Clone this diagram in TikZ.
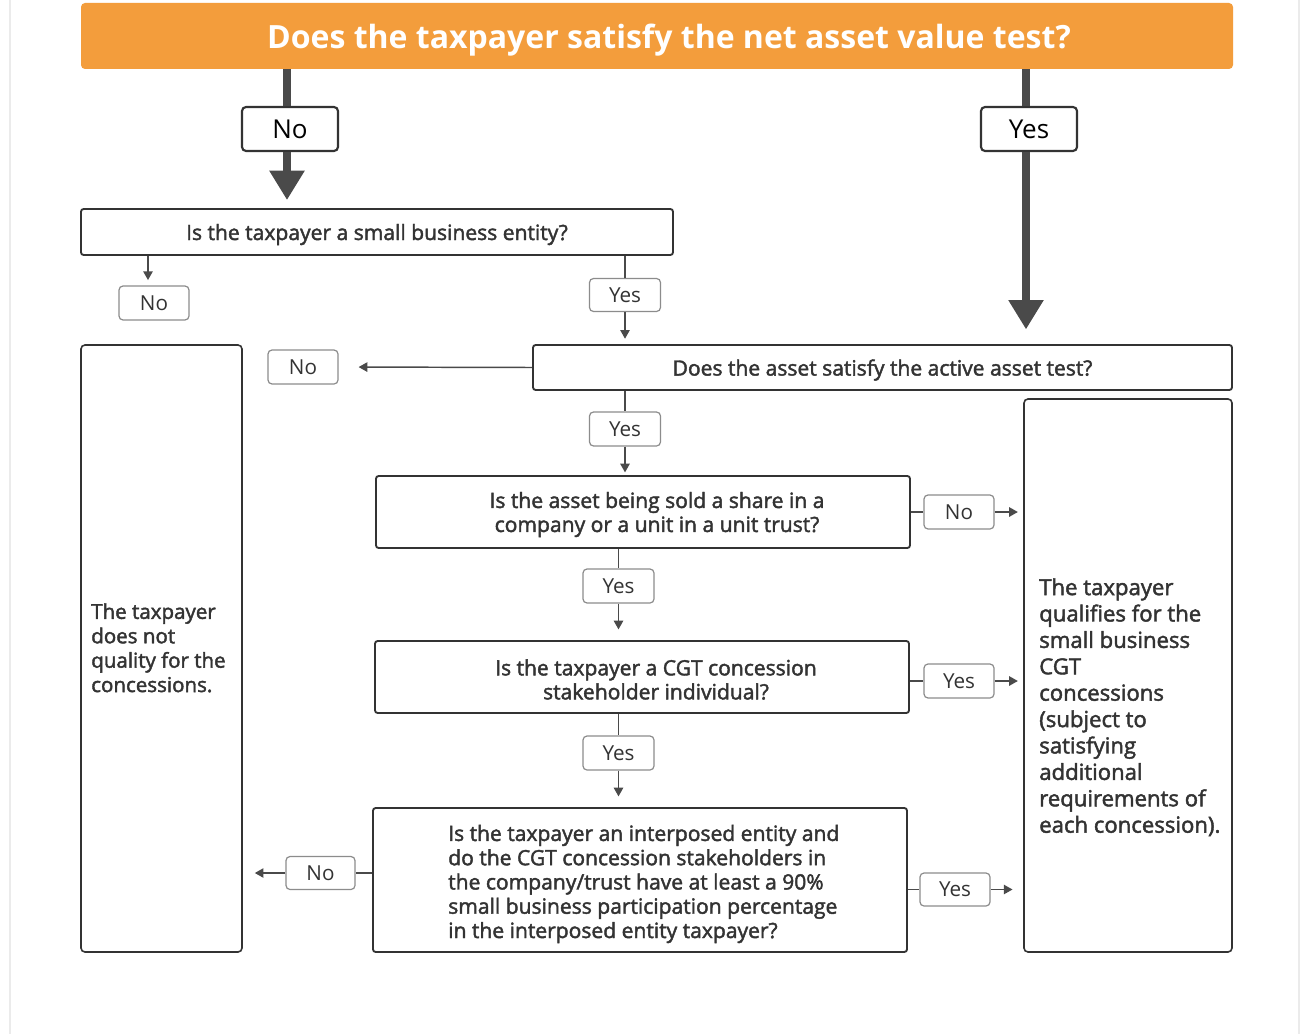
\documentclass[tikz,border=0pt]{standalone}
\usepackage{fontspec}
\setmainfont{Open Sans}
\newfontfamily\semib[FakeBold=2]{Open Sans}
\usetikzlibrary{arrows.meta}
\definecolor{orangebar}{HTML}{F39D3C}
\definecolor{ink}{HTML}{333333}
\definecolor{thick}{HTML}{4A4A4A}
\definecolor{lbl}{HTML}{8C8C8C}
\tikzset{
  qfont/.style={font=\semib\fontsize{15.8}{18}\selectfont, text=ink},
  qbox/.style={draw=ink, line width=1.4pt, rounded corners=2pt, inner sep=0pt, align=center, qfont},
  bigl/.style={draw=ink, line width=1.6pt, rounded corners=3pt, inner sep=0pt,
    font=\fontsize{19.5}{22}\selectfont, text=black},
  lab/.style={draw=lbl, line width=0.9pt, rounded corners=3pt, inner sep=0pt,
    font=\fontsize{15.5}{18}\selectfont, text=ink},
  side/.style={draw=ink, line width=1.2pt, rounded corners=3pt, inner sep=0pt},
  conn/.style={draw=thick, line width=1.1pt},
  arr/.style={conn, -{Triangle[width=7pt,length=6.5pt]}},
  fat/.style={draw=thick, line width=6pt},
  fatarr/.style={fat, -{Triangle[width=25pt,length=22pt]}},
}
\begin{document}
\begin{tikzpicture}[x=0.75pt,y=-0.75pt]
\useasboundingbox (0,0) rectangle (1302,1034);
\fill[white] (0,0) rectangle (1302,1034);
\draw[black!8, line width=0.8pt] (10,0) -- (10,1034);
\draw[black!8, line width=0.8pt] (1299,0) -- (1299,1034);

% title
\node[fill=orangebar, rounded corners=3pt, minimum width=1152*0.75pt, minimum height=66*0.75pt,
  inner sep=0pt] (title) at (657,36) {};
\node[inner sep=0pt, text=white, font=\bfseries\fontsize{24}{28}\selectfont, text depth=0pt] (titlet) at (669,36)
  {Does the taxpayer satisfy the net asset value test?};

\node[bigl, minimum width=96*0.75pt, minimum height=44*0.75pt] (noTop) at (290,129) {No};
\node[bigl, minimum width=96*0.75pt, minimum height=44*0.75pt] (yesTop) at (1029,129) {Yes};

\node[qbox, minimum width=592*0.75pt, minimum height=46*0.75pt, text depth=0pt] (q1) at (377,232)
  {Is the taxpayer a small business entity?};
\node[lab, minimum width=70*0.75pt, minimum height=34*0.75pt] (no1) at (154,303) {No};
\node[lab, minimum width=71*0.75pt, minimum height=33*0.75pt] (yes1) at (625,295) {Yes};

\node[qbox, minimum width=699*0.75pt, minimum height=45*0.75pt, text depth=0pt] (q2) at (882.5,367.5)
  {Does the asset satisfy the active asset test?};
\node[lab, minimum width=70*0.75pt, minimum height=34*0.75pt] (no2) at (303,367) {No};
\node[lab, minimum width=71*0.75pt, minimum height=34*0.75pt] (yes2) at (625,429) {Yes};

\node[qbox, minimum width=534*0.75pt, minimum height=72*0.75pt] (q3) at (643,512) {};
\node[inner sep=0pt, align=center, qfont] (q3t) at (657,514.5)
  {Is the asset being sold a share in a\\company or a unit in a unit trust?};
\node[lab, minimum width=70*0.75pt, minimum height=34*0.75pt] (no3) at (959,512) {No};
\node[lab, minimum width=71*0.75pt, minimum height=34*0.75pt] (yes3) at (618.5,586) {Yes};

\node[qbox, minimum width=534*0.75pt, minimum height=72*0.75pt] (q4) at (642,677) {};
\node[inner sep=0pt, align=center, qfont] (q4t) at (656,679.5)
  {Is the taxpayer a CGT concession\\stakeholder individual?};
\node[lab, minimum width=70*0.75pt, minimum height=34*0.75pt] (yes4) at (959,681) {Yes};
\node[lab, minimum width=71*0.75pt, minimum height=34*0.75pt] (yes5) at (618.5,753) {Yes};

\node[qbox, minimum width=534*0.75pt, minimum height=144*0.75pt] (q5) at (640,880) {};
\node[anchor=west, inner sep=0pt, align=left, qfont, font=\semib\fontsize{15.8}{18.2}\selectfont] (q5t) at (448,884)
  {Is the taxpayer an interposed entity and\\do the CGT concession stakeholders in\\the company/trust have at least a 90\%\\small business participation percentage\\in the interposed entity taxpayer?};
\node[lab, minimum width=69*0.75pt, minimum height=33*0.75pt] (no5) at (320.5,873) {No};
\node[lab, minimum width=70*0.75pt, minimum height=33*0.75pt] (yes6) at (955,889.5) {Yes};

\node[side, minimum width=161*0.75pt, minimum height=607*0.75pt] (left) at (161.5,648.5) {};
\node[anchor=north west, inner sep=0pt, align=left, text=ink, font=\semib\fontsize{15.4}{18.3}\selectfont] (leftt) at (91,603)
  {The taxpayer\\does not\\quality for the\\concessions.};
\node[side, minimum width=208*0.75pt, minimum height=553*0.75pt] (right) at (1128,675.5) {};
\node[anchor=north west, inner sep=0pt, align=left, text=ink, font=\semib\fontsize{16.6}{19.8}\selectfont] (rightt) at (1039,578)
  {The taxpayer\\qualifies for the\\small business\\CGT\\concessions\\(subject to\\satisfying\\additional\\requirements of\\each concession).};

% thick connectors
\draw[fat] (title.south -| noTop.north) ++(-3,0) coordinate (a0) -- (a0 |- noTop.north);
\draw[fatarr, shorten >=6pt] (noTop.south) ++(-3,0) coordinate (a1) -- (a1 |- q1.north);
\draw[fat] (title.south -| yesTop.north) ++(-3,0) coordinate (b0) -- (b0 |- yesTop.north);
\draw[fatarr, shorten >=11pt] (yesTop.south) ++(-3,0) coordinate (b1) -- (b1 |- q2.north);

% thin connectors
\draw[arr, shorten >=4pt] (q1.south -| no1) ++(-6,0) coordinate (c0) -- (c0 |- no1.north);
\draw[conn] (q1.south -| yes1) -- (yes1.north);
\draw[arr, shorten >=4pt] (yes1.south) -- (yes1.south |- q2.north);
\draw[arr, shorten >=15pt] (q2.west) -- (no2.east);
\draw[conn] (q2.south -| yes2) -- (yes2.north);
\draw[arr, shorten >=2pt] (yes2.south) -- (yes2.south |- q3.north);
\draw[conn] (q3.east) -- (no3.west);
\draw[arr, shorten >=4pt] (no3.east) -- (no3.east -| right.west);
\draw[conn] (q3.south -| yes3) -- (yes3.north);
\draw[arr, shorten >=8pt] (yes3.south) -- (yes3.south |- q4.north);
\draw[conn] (q4.east |- yes4) -- (yes4.west);
\draw[arr, shorten >=4pt] (yes4.east) -- (yes4.east -| right.west);
\draw[conn] (q4.south -| yes5) -- (yes5.north);
\draw[arr, shorten >=8pt] (yes5.south) -- (yes5.south |- q5.north);
\draw[conn] (q5.west |- no5) -- (no5.east);
\draw[arr, shorten >=9pt] (no5.west) -- (no5.west -| left.east);
\draw[conn] (q5.east |- yes6) -- (yes6.west);
\draw[arr, shorten >=8pt] (yes6.east) -- (yes6.east -| right.west);
\end{tikzpicture}
\end{document}
